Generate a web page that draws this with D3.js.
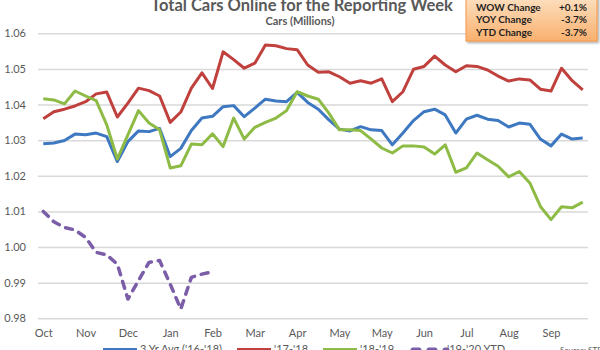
<!DOCTYPE html>
<html>
<head>
<meta charset="utf-8">
<script src="https://cdn.jsdelivr.net/npm/d3@7"></script>
<style>
  body { margin: 0; background: #fff; }
  svg { display: block; font-family: Lato, "Open Sans", sans-serif; }
</style>
</head>
<body>
<svg id="chart" width="600" height="350"></svg>
<script>
// Chart size
const width = 600, height = 350;
const plotLeft = 38, plotRight = 588, plotTop = 33.3, plotBottom = 318.3;

// Month labels shown every 4 weeks
const monthLabels = ["Oct", "Nov", "Dec", "Jan", "Feb", "Mar", "Apr", "May", "May", "Jun", "Jul", "Aug", "Sep"];
const yTicks = [0.98, 0.99, 1.00, 1.01, 1.02, 1.03, 1.04, 1.05, 1.06];

// Weekly values (millions of cars)
const avg3yr = [1.0290, 1.0292, 1.0299, 1.0317, 1.0315, 1.0320, 1.0310, 1.0240, 1.0296, 1.0326,
    1.0324, 1.0333, 1.0254, 1.0277, 1.0327, 1.0362, 1.0367, 1.0394, 1.0397, 1.0366,
    1.0390, 1.0415, 1.0410, 1.0408, 1.0434, 1.0406, 1.0387, 1.0357, 1.0331, 1.0326,
    1.0338, 1.0329, 1.0327, 1.0287, 1.0320, 1.0355, 1.0380, 1.0387, 1.0371, 1.0320,
    1.0359, 1.0370, 1.0359, 1.0355, 1.0337, 1.0348, 1.0345, 1.0303, 1.0284, 1.0317,
    1.0303, 1.0306];
const season1718 = [1.0360, 1.0380, 1.0387, 1.0396, 1.0408, 1.0430, 1.0435, 1.0365, 1.0404, 1.0446,
    1.0439, 1.0424, 1.0350, 1.0379, 1.0446, 1.0489, 1.0445, 1.0548, 1.0526, 1.0502,
    1.0516, 1.0567, 1.0565, 1.0557, 1.0554, 1.0511, 1.0491, 1.0492, 1.0478, 1.0460,
    1.0467, 1.0460, 1.0472, 1.0408, 1.0436, 1.0499, 1.0507, 1.0536, 1.0511, 1.0492,
    1.0509, 1.0507, 1.0497, 1.0480, 1.0466, 1.0472, 1.0469, 1.0443, 1.0438, 1.0502,
    1.0467, 1.0441];
const season1819 = [1.0416, 1.0413, 1.0402, 1.0438, 1.0424, 1.0411, 1.0343, 1.0247, 1.0315, 1.0383,
    1.0348, 1.0329, 1.0222, 1.0228, 1.0289, 1.0287, 1.0318, 1.0282, 1.0362, 1.0303,
    1.0336, 1.0350, 1.0362, 1.0383, 1.0436, 1.0424, 1.0415, 1.0376, 1.0329, 1.0329,
    1.0327, 1.0303, 1.0278, 1.0264, 1.0284, 1.0284, 1.0281, 1.0261, 1.0287, 1.0210,
    1.0222, 1.0264, 1.0245, 1.0227, 1.0197, 1.0212, 1.0180, 1.0114, 1.0077, 1.0113,
    1.0110, 1.0126];
const season1920 = [1.0100, 1.0071, 1.0055, 1.0048, 1.0027, 0.9985, 0.9978, 0.9952, 0.9854, 0.9906,
    0.9957, 0.9962, 0.9896, 0.9826, 0.9915, 0.9924, 0.9931];

// Summary box
const boxLabels = ["WOW Change", "YOY Change", "YTD Change"];
const boxValues = ["+0.1%", "-3.7%", "-3.7%"];

const seriesNames = ["3 Yr Avg ('16-'18)", "'17-'18", "'18-'19", "'19-'20 YTD"];
const seriesColors = ["#3d78c1", "#c0403d", "#8dbb45", "#7b5ea7"];
const seriesData = [avg3yr, season1718, season1819, season1920];

const svg = d3.select("#chart");
const textColor = "#595959";

// Scales
const x = d3.scalePoint()
    .domain(d3.range(52))
    .range([plotLeft, plotRight])
    .padding(0.5);
const y = d3.scaleLinear()
    .domain([0.98, 1.06])
    .range([plotBottom, plotTop]);

// Gridlines + y labels
const yAxis = svg.append("g")
    .attr("transform", `translate(${plotLeft},0)`)
    .call(d3.axisLeft(y).tickValues(yTicks).tickFormat(d3.format(".2f"))
        .tickSize(-(plotRight - plotLeft)).tickPadding(12));
yAxis.select(".domain").remove();
yAxis.selectAll("line").attr("stroke", "#d9d9d9").attr("stroke-width", 1.5);
yAxis.selectAll("text").attr("fill", textColor).style("font-size", "11px")
    .style("font-family", "Lato, sans-serif");

// X labels every 4 weeks
const xAxis = svg.append("g")
    .attr("transform", `translate(0,${plotBottom})`)
    .call(d3.axisBottom(x)
        .tickValues(d3.range(0, 52, 4))
        .tickFormat((d, i) => monthLabels[i])
        .tickSize(0).tickPadding(11));
xAxis.select(".domain").remove();
xAxis.selectAll("text").attr("fill", textColor).style("font-size", "11px")
    .style("font-family", "Lato, sans-serif");

// Lines
const line = d3.line()
    .x((d, i) => x(i))
    .y(d => y(d));

seriesData.forEach((data, k) => {
    svg.append("path")
        .datum(data)
        .attr("d", line)
        .attr("fill", "none")
        .attr("stroke", seriesColors[k])
        .attr("stroke-width", k === 3 ? 3.5 : 3)
        .attr("stroke-linejoin", "round")
        .attr("stroke-linecap", k === 3 ? "round" : "butt")
        .attr("stroke-dasharray", k === 3 ? "7,7" : null);
});

// Title
svg.append("text")
    .attr("x", 302).attr("y", 10.5)
    .attr("text-anchor", "middle")
    .attr("fill", textColor)
    .style("font-size", "16.5px").style("font-weight", "bold")
    .text("Total Cars Online for the Reporting Week");
svg.append("text")
    .attr("x", 300).attr("y", 25)
    .attr("text-anchor", "middle")
    .attr("fill", textColor)
    .style("font-size", "11px").style("font-weight", "bold")
    .text("Cars (Millions)");

// Legend (partly cut at the bottom edge)
const legendX = [103, 237, 323, 410];
const legend = svg.append("g");
seriesNames.forEach((name, k) => {
    legend.append("line")
        .attr("x1", legendX[k]).attr("x2", legendX[k] + 34)
        .attr("y1", 350).attr("y2", 350)
        .attr("stroke", seriesColors[k])
        .attr("stroke-width", k === 3 ? 5 : 4)
        .attr("stroke-linecap", k === 3 ? "round" : "butt")
        .attr("stroke-dasharray", k === 3 ? "6,10" : null)
        .attr("transform", k === 3 ? "translate(3,0)" : null);
    legend.append("text")
        .attr("x", legendX[k] + 37).attr("y", 353)
        .attr("fill", textColor)
        .style("font-size", "11px")
        .text(name);
});
svg.append("text")
    .attr("x", 560).attr("y", 353)
    .attr("fill", textColor)
    .style("font-size", "8px")
    .text("Source: STR");

// Summary box
const defs = svg.append("defs");
const grad = defs.append("linearGradient")
    .attr("id", "boxGrad").attr("x1", 0).attr("y1", 0).attr("x2", 0).attr("y2", 1);
grad.append("stop").attr("offset", "0%").attr("stop-color", "#fde1c2");
grad.append("stop").attr("offset", "100%").attr("stop-color", "#f9b06e");
const shadow = defs.append("filter").attr("id", "boxShadow")
    .attr("x", "-10%").attr("y", "-10%").attr("width", "130%").attr("height", "140%");
shadow.append("feDropShadow").attr("dx", 1.5).attr("dy", 1.5)
    .attr("stdDeviation", 1.2).attr("flood-color", "#000").attr("flood-opacity", 0.35);

const box = svg.append("g");
box.append("rect")
    .attr("x", 466).attr("y", -4).attr("width", 131).attr("height", 45)
    .attr("fill", "url(#boxGrad)")
    .attr("stroke", "#f79646").attr("stroke-width", 1)
    .attr("filter", "url(#boxShadow)");
boxLabels.forEach((lab, i) => {
    box.append("text")
        .attr("x", 476).attr("y", 10.5 + i * 12.5)
        .attr("fill", "#1f1f1f")
        .style("font-size", "10px").style("font-weight", "bold")
        .text(lab);
    box.append("text")
        .attr("x", 587).attr("y", 10.5 + i * 12.5)
        .attr("text-anchor", "end")
        .attr("fill", "#1f1f1f")
        .style("font-size", "10px").style("font-weight", "bold")
        .text(boxValues[i]);
});
</script>
</body>
</html>
